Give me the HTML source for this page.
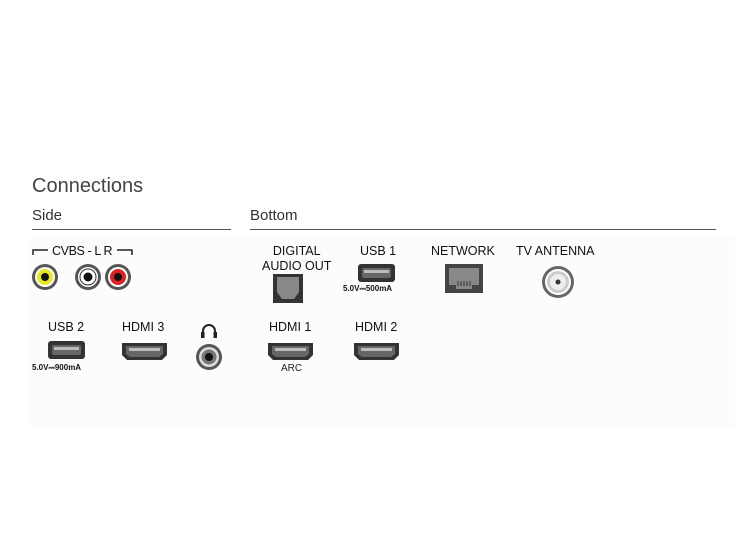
<!DOCTYPE html>
<html><head><meta charset="utf-8"><style>
body{margin:0;background:#fff;}
.w{position:relative;width:750px;height:555px;overflow:hidden;font-family:"Liberation Sans",sans-serif;color:#222;}
.t{position:absolute;white-space:nowrap;}
.l{font-size:12.5px;color:#111;}
.s{font-size:8px;font-weight:bold;color:#111;}
</style></head><body><div class="w">
<div style="position:absolute;left:28px;top:238px;width:707px;height:188px;background:#fcfcfc"></div>
<div class="t" style="left:32px;top:175px;font-size:20px;color:#444">Connections</div>
<div class="t" style="left:32px;top:207px;font-size:15px;color:#333">Side</div>
<div class="t" style="left:250px;top:207px;font-size:15px;color:#333">Bottom</div>
<div style="position:absolute;left:32px;top:229px;width:199px;height:1px;background:#555"></div>
<div style="position:absolute;left:250px;top:229px;width:466px;height:1px;background:#555"></div>
<div class="t l" style="left:52px;top:244px;letter-spacing:-0.4px">CVBS - L R</div>
<div class="t l" style="left:262px;top:244px;line-height:15px;text-align:center">DIGITAL<br>AUDIO OUT</div>
<div class="t l" style="left:360px;top:244px">USB 1</div>
<div class="t l" style="left:431px;top:244px">NETWORK</div>
<div class="t l" style="left:516px;top:244px">TV ANTENNA</div>
<div class="t s" style="left:343px;top:284px">5.0V⎓500mA</div>
<div class="t l" style="left:48px;top:320px">USB 2</div>
<div class="t l" style="left:122px;top:320px">HDMI 3</div>
<div class="t l" style="left:269px;top:320px">HDMI 1</div>
<div class="t l" style="left:355px;top:320px">HDMI 2</div>
<div class="t s" style="left:32px;top:363px">5.0V⎓900mA</div>
<div class="t" style="left:281px;top:363px;font-size:10px">ARC</div>
<svg width="750" height="555" style="position:absolute;left:0;top:0">
<defs>
<g id="h"><path d="M0 0 H45 V12 L40 17 H5 L0 12 Z" fill="#333"/><path d="M4 3 H41 V11 L37 14 H8 L4 11 Z" fill="#666"/><rect x="7" y="5" width="31" height="3" fill="#bbb"/></g>
</defs>
<g stroke="#222" stroke-width="1.5" fill="none">
<path d="M33 255 V250 H48"/><path d="M117 250 H132 V255"/>
</g>
<g>
<circle cx="45" cy="277" r="13" fill="#555"/><circle cx="45" cy="277" r="10" fill="#fff"/><circle cx="45" cy="277" r="8" fill="#e8e820"/><circle cx="45" cy="277" r="4" fill="#111"/>
<circle cx="88" cy="277" r="13" fill="#555"/><circle cx="88" cy="277" r="10" fill="#fff"/><circle cx="88" cy="277" r="8" fill="#fff" stroke="#333"/><circle cx="88" cy="277" r="4.5" fill="#111"/>
<circle cx="118" cy="277" r="13" fill="#555"/><circle cx="118" cy="277" r="10" fill="#fff"/><circle cx="118" cy="277" r="8" fill="#e02020"/><circle cx="118" cy="277" r="4" fill="#111"/>
</g>
<rect x="273" y="274" width="30" height="29" fill="#333"/>
<path d="M277 277 H299 V292 L294 299 H282 L277 292 Z" fill="#888"/>
<rect x="358" y="264" width="37" height="18" rx="3" fill="#333"/><rect x="362" y="268" width="29" height="10" rx="2" fill="#666"/><rect x="364" y="270" width="25" height="3" fill="#bbb"/>
<rect x="48" y="341" width="37" height="18" rx="3" fill="#333"/><rect x="52" y="345" width="29" height="10" rx="2" fill="#666"/><rect x="54" y="347" width="25" height="3" fill="#bbb"/>
<rect x="445" y="264" width="38" height="29" fill="#444"/>
<path d="M449 268 H479 V285 H472 V289 H456 V285 H449 Z" fill="#888"/>
<g stroke="#333" stroke-width="1"><path d="M458 281 v5 M461 281 v5 M464 281 v5 M467 281 v5 M470 281 v5"/></g>
<circle cx="558" cy="282" r="16" fill="#666"/><circle cx="558" cy="282" r="13" fill="#fff"/><circle cx="558" cy="282" r="11" fill="#ccc"/><circle cx="558" cy="282" r="8" fill="#eee"/><circle cx="558" cy="282" r="2.5" fill="#333"/>
<use href="#h" x="122" y="343"/><use href="#h" x="268" y="343"/><use href="#h" x="354" y="343"/>
<path d="M203 337 V331 a6 6 0 0 1 12 0 V337" fill="none" stroke="#222" stroke-width="2"/>
<rect x="201" y="332" width="3.5" height="6" fill="#222"/><rect x="213.5" y="332" width="3.5" height="6" fill="#222"/>
<circle cx="209" cy="357" r="13" fill="#555"/><circle cx="209" cy="357" r="10" fill="#ddd"/><circle cx="209" cy="357" r="7.5" fill="#777"/><circle cx="209" cy="357" r="4" fill="#111"/>
</svg>
</div></body></html>
